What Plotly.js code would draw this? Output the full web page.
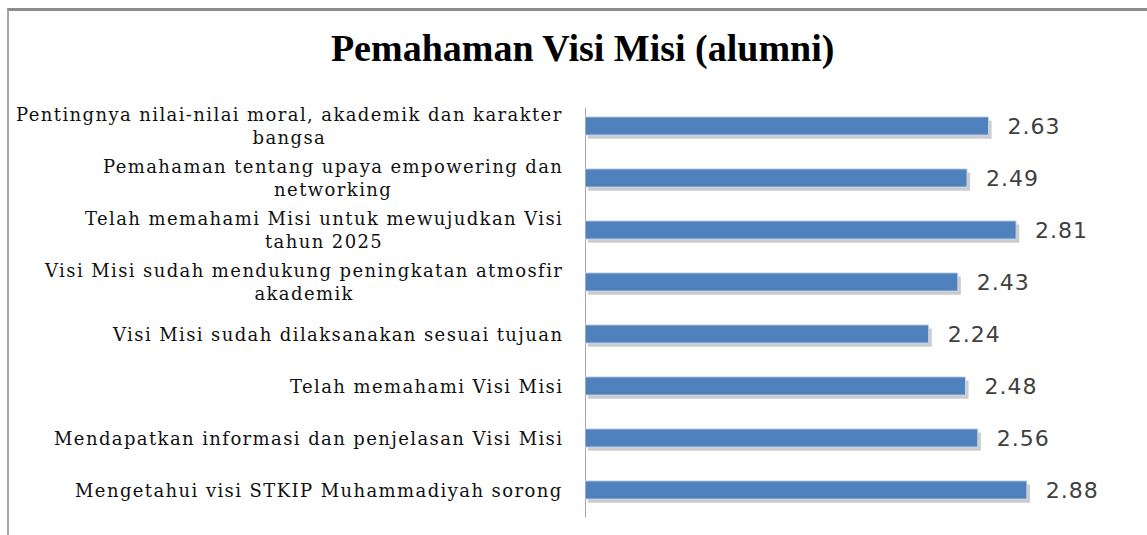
<!DOCTYPE html>
<html>
<head>
<meta charset="utf-8">
<script src="https://cdn.plot.ly/plotly-3.0.1.min.js"></script>
<style>
  html, body { margin: 0; padding: 0; background: #fff; }
  #wrap { position: relative; width: 1147px; height: 535px; }
  #chart { position: absolute; left: 0; top: 0; width: 1147px; height: 535px; }
  #frame { position: absolute; left: 7px; top: 8px; width: 1160px; height: 540px;
           border-top: 3px solid #8c8c8c; border-left: 2px solid #a6a6a6; pointer-events: none; }
  .annotation-text { letter-spacing: 1.4px; }
  .bartext text, text.bartext { letter-spacing: 1px; }
</style>
</head>
<body>
<div id="wrap">
  <div id="chart"></div>
  <div id="frame"></div>
</div>
<script>
// ---- data ----
const chartTitle = "Pemahaman Visi Misi (alumni)";
const categories = [
  "Pentingnya nilai-nilai moral, akademik dan karakter<br>bangsa",
  "Pemahaman tentang upaya empowering dan<br>networking",
  "Telah memahami Misi untuk mewujudkan Visi<br>tahun 2025",
  "Visi Misi sudah mendukung peningkatan atmosfir<br>akademik",
  "Visi Misi sudah dilaksanakan sesuai tujuan",
  "Telah memahami Visi Misi",
  "Mendapatkan informasi dan penjelasan Visi Misi",
  "Mengetahui visi STKIP Muhammadiyah sorong"
];
const values = [2.63, 2.49, 2.81, 2.43, 2.24, 2.48, 2.56, 2.88];

// ---- chart ----
const barWidth = 0.35;
const shadow = {
  type: "bar", orientation: "h",
  y: categories, x: values, base: 0.02,
  width: barWidth, offset: -barWidth / 2 + 0.07,
  marker: { color: "rgba(110,110,110,0.35)", line: { width: 0 } },
  hoverinfo: "skip", showlegend: false
};
const bars = {
  type: "bar", orientation: "h",
  y: categories, x: values,
  width: barWidth, offset: -barWidth / 2,
  marker: { color: "#4f81bd", line: { color: "#c6d6ea", width: 1 } },
  text: values.map(v => "\u00a0\u00a0" + v.toFixed(2)),
  textposition: "outside", cliponaxis: false, constraintext: "none",
  textfont: { family: "DejaVu Sans", size: 22, color: "#404040" },
  showlegend: false
};

const annotations = categories.map(c => ({
  xref: "x", yref: "y", x: 0, y: c,
  text: c, showarrow: false,
  xanchor: "right", yanchor: "middle", align: "center",
  xshift: -20,
  font: { family: "DejaVu Serif", size: 18, color: "#111" }
}));

const layout = {
  width: 1147, height: 535,
  margin: { l: 585, r: 25, t: 100, b: 19, pad: 0 },
  paper_bgcolor: "#fff", plot_bgcolor: "#fff",
  barmode: "overlay",
  title: {
    text: "<b>" + chartTitle + "</b>",
    font: { family: "Liberation Serif", size: 38, color: "#000" },
    x: 0.508, xanchor: "center", y: 0.91, yanchor: "middle", yref: "container"
  },
  xaxis: { range: [0, 3.5], showgrid: false, zeroline: false, showline: false,
           showticklabels: false, ticks: "" },
  yaxis: { autorange: "reversed", showgrid: false, zeroline: false,
           showline: false, showticklabels: false, ticks: "" },
  shapes: [{
    type: "line", xref: "x", yref: "paper", x0: 0, x1: 0, y0: -0.003, y1: 0.981,
    line: { color: "#a6a6a6", width: 2 }, layer: "below"
  }],
  annotations: annotations,
  font: { family: "DejaVu Serif" }
};

Plotly.newPlot("chart", [shadow, bars], layout, { displayModeBar: false, staticPlot: true });
</script>
</body>
</html>
